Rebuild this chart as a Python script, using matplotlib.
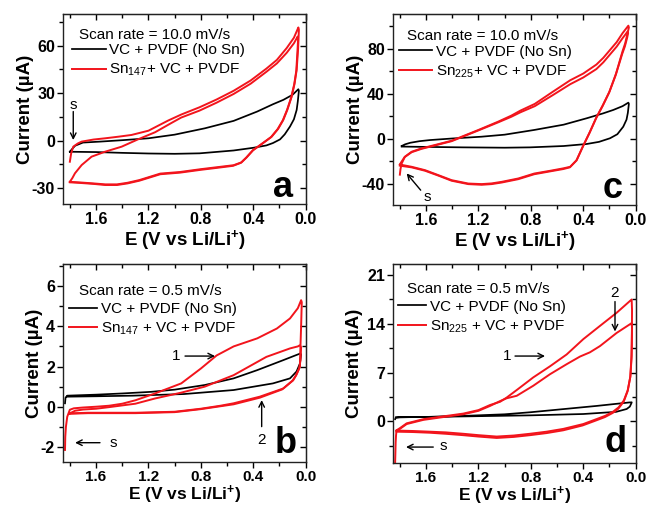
import matplotlib
matplotlib.use("Agg")
import matplotlib.pyplot as plt
from matplotlib.ticker import MultipleLocator, FormatStrFormatter
from matplotlib.lines import Line2D

plt.rcParams['font.family'] = ['Liberation Sans', 'DejaVu Sans']
plt.rcParams['mathtext.fontset'] = 'custom'
plt.rcParams['mathtext.rm'] = 'Liberation Sans'
plt.rcParams['mathtext.it'] = 'Liberation Sans:italic'
plt.rcParams['mathtext.bf'] = 'Liberation Sans:bold'
plt.rcParams['mathtext.default'] = 'regular'

# ---------------- Panel a (10.0 mV/s, Sn147) ----------------
a_black_V = [1.80, 1.78, 1.76, 1.70, 1.57, 1.40, 1.20, 1.00, 0.77, 0.55, 0.37, 0.25, 0.17, 0.10, 0.056,
             0.052, 0.06, 0.069, 0.09, 0.12, 0.16, 0.196, 0.25, 0.30, 0.40, 0.55, 0.81, 1.00, 1.20, 1.40, 1.60, 1.80]
a_black_I = [-7.0, -5.0, -3.2, -1.2, -0.6, 0.3, 1.5, 3.8, 7.8, 12.5, 18.4, 23.0, 25.8, 29.0, 32.5,
             31.5, 25.0, 19.4, 13.5, 8.9, 4.0, 0.8, -1.5, -3.0, -4.5, -6.2, -8.0, -8.3, -8.1, -7.7, -7.2, -7.0]
a_red1_V = [1.80, 1.79, 1.774, 1.74, 1.71, 1.62, 1.53, 1.43, 1.33, 1.20, 1.05, 0.95, 0.81, 0.68, 0.55, 0.42, 0.30,
            0.22, 0.145, 0.09, 0.056,
            0.052, 0.058, 0.069, 0.085, 0.107, 0.14, 0.171, 0.21, 0.26, 0.33, 0.40, 0.45, 0.49, 0.55, 0.68, 0.80,
            0.96, 1.11, 1.27, 1.36, 1.44, 1.53, 1.62, 1.72, 1.80]
a_red1_I = [-13.3, -8.0, -3.8, -1.8, -0.6, 0.7, 1.5, 2.5, 3.6, 6.3, 12.7, 16.5, 21.1, 26.0, 31.5, 38.0, 45.5,
            51.0, 58.5, 65.0, 71.5,
            70.0, 58.0, 44.7, 36.0, 27.8, 19.5, 13.1, 7.5, 2.5, -1.8, -5.9, -10.5, -13.7, -15.5, -16.8, -18.0,
            -19.8, -20.8, -24.9, -26.6, -27.6, -27.6, -27.0, -26.4, -26.0]
a_red2_V = [1.80, 1.78, 1.761, 1.71, 1.634, 1.532, 1.405, 1.278, 1.15, 1.02, 0.95, 0.81, 0.68, 0.55, 0.42, 0.30,
            0.22, 0.145, 0.09, 0.061,
            0.058, 0.064, 0.072, 0.088, 0.11, 0.143, 0.175, 0.215, 0.265, 0.335, 0.405, 0.455, 0.495, 0.555, 0.68,
            0.80, 0.96, 1.11, 1.27, 1.36, 1.44, 1.53, 1.62, 1.72, 1.80]
a_red2_I = [-26.0, -23.5, -20.6, -15.4, -10.1, -7.0, -3.8, 0.9, 5.3, 11.4, 14.6, 19.0, 24.0, 29.5, 36.0, 43.5,
            48.8, 55.5, 61.5, 65.8,
            64.0, 55.0, 44.0, 35.5, 27.5, 19.3, 12.8, 7.2, 2.2, -2.0, -6.2, -10.8, -14.0, -15.9, -17.2,
            -18.4, -20.2, -21.2, -25.3, -27.0, -28.0, -28.0, -27.3, -26.7, -26.3]

# ---------------- Panel c (10.0 mV/s, Sn225) ----------------
c_black_V = [1.786, 1.76, 1.72, 1.65, 1.57, 1.40, 1.176, 1.00, 0.774, 0.55, 0.374, 0.25, 0.171, 0.10, 0.056,
             0.052, 0.06, 0.07, 0.095, 0.14, 0.196, 0.28, 0.374, 0.55, 0.807, 1.00, 1.316, 1.60, 1.786]
c_black_I = [-6.5, -5.0, -3.6, -2.2, -1.2, 0.2, 1.8, 3.6, 7.8, 12.5, 18.2, 22.5, 25.6, 29.0, 32.1,
             31.0, 23.0, 17.0, 10.7, 4.0, 0.4, -2.8, -4.7, -6.5, -7.7, -8.0, -7.7, -7.3, -7.0]
c_red1_V = [1.80, 1.795, 1.786, 1.761, 1.71, 1.634, 1.532, 1.405, 1.328, 1.20, 1.049, 0.95, 0.88, 0.77, 0.63, 0.50,
            0.40, 0.30, 0.247, 0.196, 0.145, 0.10, 0.056,
            0.052, 0.06, 0.08, 0.10, 0.15, 0.20, 0.25, 0.30, 0.35, 0.40, 0.45, 0.50, 0.553, 0.65, 0.774, 0.896,
            1.023, 1.10, 1.176, 1.278, 1.405, 1.507, 1.608, 1.71, 1.80]
c_red1_I = [-32.0, -27.0, -22.0, -16.0, -11.6, -8.6, -5.6, -1.8, 1.8, 7.8, 15.2, 20.5, 25.0, 31.0, 42.0, 52.0,
            58.0, 66.0, 72.0, 79.0, 86.0, 94.0, 100.6,
            99.0, 95.0, 85.0, 78.0, 58.0, 42.0, 30.0, 19.0, 6.0, -6.0, -19.0, -25.0, -26.4, -28.5, -31.0, -35.4,
            -38.4, -39.8, -40.4, -39.9, -36.9, -32.4, -28.0, -25.0, -23.0]
c_red2_V = [1.80, 1.79, 1.765, 1.71, 1.634, 1.532, 1.405, 1.328, 1.20, 1.049, 0.95, 0.88, 0.77, 0.63, 0.50, 0.40,
            0.30, 0.247, 0.196, 0.145, 0.10, 0.061,
            0.058, 0.065, 0.083, 0.103, 0.153, 0.203, 0.253, 0.303, 0.353, 0.403, 0.453, 0.503, 0.553, 0.65,
            0.774, 0.896, 1.023, 1.10, 1.176, 1.278, 1.405, 1.507, 1.608, 1.71, 1.80]
c_red2_I = [-23.0, -21.0, -16.5, -12.0, -9.0, -6.0, -2.2, 1.4, 7.4, 14.6, 19.5, 23.5, 29.0, 39.0, 48.5, 54.5,
            62.0, 68.0, 75.0, 82.0, 89.5, 95.5,
            94.0, 90.0, 82.0, 75.5, 56.5, 41.0, 29.0, 18.0, 5.0, -7.0, -19.5, -25.5, -27.0, -29.0,
            -31.6, -36.0, -39.0, -40.4, -41.0, -40.4, -37.4, -32.8, -28.5, -25.5, -24.0]

# ---------------- Panel b (0.5 mV/s, Sn147) ----------------
b_black_V = [1.837, 1.833, 1.82, 1.60, 1.40, 1.18, 1.00, 0.77, 0.55, 0.37, 0.17, 0.08, 0.04,
             0.035, 0.044, 0.07, 0.12, 0.25, 0.55, 0.93, 1.32, 1.60, 1.82]
b_black_I = [0.17, 0.45, 0.55, 0.60, 0.66, 0.74, 0.85, 1.08, 1.41, 1.82, 2.32, 2.55, 2.65,
             2.60, 2.15, 1.75, 1.41, 1.16, 0.83, 0.63, 0.55, 0.52, 0.50]
b_red1_V = [1.837, 1.835, 1.83, 1.82, 1.80, 1.77, 1.70, 1.60, 1.50, 1.40, 1.30, 1.15, 0.95, 0.80, 0.68, 0.55,
            0.37, 0.22, 0.12, 0.06, 0.035,
            0.03, 0.035, 0.04, 0.044, 0.07, 0.095, 0.17, 0.35, 0.55, 0.65, 0.80, 1.00, 1.30, 1.66, 1.80]
b_red1_I = [-2.15, -1.5, -1.0, -0.5, -0.15, -0.08, -0.04, 0.0, 0.05, 0.15, 0.32, 0.66, 1.16, 1.9, 2.55, 3.0,
            3.4, 3.89, 4.39, 4.9, 5.3,
            5.2, 4.0, 3.0, 2.0, 1.6, 1.32, 0.91, 0.5, 0.17, 0.05, -0.1, -0.25, -0.3, -0.3, -0.33]
b_red2_V = [1.80, 1.76, 1.70, 1.60, 1.50, 1.30, 1.15, 0.95, 0.77, 0.55, 0.30, 0.12, 0.06, 0.044,
            0.035, 0.04, 0.05, 0.075, 0.10, 0.18, 0.35, 0.55, 0.80, 1.00, 1.30, 1.66, 1.80]
b_red2_I = [-0.33, -0.2, -0.14, -0.1, -0.02, 0.15, 0.41, 0.7, 1.0, 1.57, 2.48, 2.9, 3.0, 3.06,
            2.95, 2.3, 1.9, 1.55, 1.3, 0.86, 0.45, 0.12, -0.12, -0.27, -0.32, -0.32, -0.35]

# ---------------- Panel d (0.5 mV/s, Sn225) ----------------
d_black_V = [1.836, 1.832, 1.80, 1.60, 1.30, 1.00, 0.80, 0.55, 0.30, 0.15, 0.05, 0.03,
             0.035, 0.045, 0.069, 0.15, 0.40, 0.80, 1.30, 1.60, 1.83]
d_black_I = [0.3, 0.5, 0.57, 0.62, 0.78, 1.0, 1.3, 1.75, 2.2, 2.5, 2.7, 2.72,
             2.5, 2.1, 1.76, 1.35, 1.04, 0.85, 0.7, 0.62, 0.57]
d_red1_V = [1.836, 1.834, 1.832, 1.829, 1.825, 1.80, 1.748, 1.62, 1.45, 1.316, 1.20, 1.112, 1.035, 0.985, 0.90,
            0.782, 0.654, 0.527, 0.40, 0.273, 0.145, 0.031,
            0.028, 0.029, 0.031, 0.04, 0.06, 0.09, 0.13, 0.171, 0.23, 0.30, 0.40, 0.553, 0.68, 0.807, 0.93,
            1.061, 1.20, 1.316, 1.45, 1.57, 1.70, 1.825]
d_red1_I = [-5.86, -4.5, -3.0, -2.0, -1.3, -1.0, -0.3, 0.3, 0.75, 1.1, 1.6, 2.33, 2.8, 3.4, 4.6,
            6.3, 7.9, 9.6, 11.8, 13.7, 15.6, 17.5,
            16.0, 12.5, 9.4, 6.5, 4.5, 3.0, 2.0, 1.4, 0.8, 0.3, -0.4, -1.1, -1.5, -1.8, -2.05,
            -2.2, -2.0, -1.8, -1.6, -1.5, -1.4, -1.34]
d_red2_V = [1.825, 1.80, 1.748, 1.62, 1.45, 1.316, 1.20, 1.112, 1.035, 0.985, 0.908, 0.782, 0.654, 0.527, 0.425,
            0.35, 0.273, 0.145, 0.031,
            0.028, 0.03, 0.033, 0.042, 0.062, 0.092, 0.133, 0.175, 0.235, 0.305, 0.405, 0.553, 0.68, 0.807,
            0.93, 1.061, 1.20, 1.316, 1.45, 1.57, 1.70, 1.825]
d_red2_I = [-1.34, -1.1, -0.4, 0.2, 0.65, 1.0, 1.5, 2.2, 2.9, 3.3, 3.66, 5.1, 6.76, 8.2, 9.3,
            9.9, 10.8, 12.7, 14.1,
            13.5, 11.0, 9.0, 6.3, 4.3, 2.8, 1.8, 1.2, 0.6, 0.1, -0.6, -1.3, -1.7, -2.0,
            -2.25, -2.4, -2.2, -2.0, -1.8, -1.65, -1.55, -1.5]

x_tick_labels = ["1.6", "1.2", "0.8", "0.4", "0.0"]
x_ticks = [1.6, 1.2, 0.8, 0.4, 0.0]

RED = '#f2141c'
BLACK = '#000000'

fig = plt.figure(figsize=(6.53, 5.08), dpi=100)
W, H = 653.0, 508.0


def make_ax(l, r, t, b):
    return fig.add_axes([l / W, 1 - b / H, (r - l) / W, (b - t) / H])


ax_a = make_ax(63.3, 305.7, 14, 204)
ax_c = make_ax(393.3, 635.7, 14, 205)
ax_b = make_ax(63.3, 305.7, 264, 462)
ax_d = make_ax(393.3, 635.7, 264, 463)

# (ax, data..., ylim, minor step, yticks, title, red label, letter, letter pos, title pos,
#  legend anchor, handle length, xlabel pad, xlabel size, tick label size, ylabel pad)
panels = [
    (ax_a, a_black_V, a_black_I, a_red1_V, a_red1_I, a_red2_V, a_red2_I, (-40, 80), 15, [-30, 0, 30, 60],
     "Scan rate = 10.0 mV/s", "Sn$_{147}$+ VC + PVDF", "a", (0.948, 0.037), (0.065, 0.89),
     (0.036, 0.845), 2.2, 1, 13.5, 11.5, -2),
    (ax_c, c_black_V, c_black_I, c_red1_V, c_red1_I, c_red2_V, c_red2_I, (-59, 111), 20, [-40, 0, 40, 80],
     "Scan rate = 10.0 mV/s", "Sn$_{225}$+ VC + PVDF", "c", (0.948, 0.038), (0.057, 0.885),
     (0.023, 0.84), 2.2, 1, 13.5, 11.5, -2),
    (ax_b, b_black_V, b_black_I, b_red1_V, b_red1_I, b_red2_V, b_red2_I, (-2.75, 7.1), 1, [-2, 0, 2, 4, 6],
     "Scan rate = 0.5 mV/s", "Sn$_{147}$ + VC + PVDF", "b", (0.964, 0.047), (0.065, 0.865),
     (0.024, 0.808), 1.85, 0, 12.5, 11, -2),
    (ax_d, d_black_V, d_black_I, d_red1_V, d_red1_I, d_red2_V, d_red2_I, (-6.0, 22.6), 3.5, [0, 7, 14, 21],
     "Scan rate = 0.5 mV/s", "Sn$_{225}$ + VC + PVDF", "d", (0.964, 0.055), (0.057, 0.876),
     (0.019, 0.82), 1.85, 0, 12.5, 11, 3),
]

for (ax, bV, bI, r1V, r1I, r2V, r2I, ylim, ymin, yticks, title, redlab, letter, lpos, tpos,
     legpos, hlen, xpad, xsize, tsize, ypad) in panels:
    ax.plot(bV, bI, color=BLACK, lw=1.25, solid_joinstyle='round')
    ax.plot(r1V, r1I, color=RED, lw=1.4, solid_joinstyle='round')
    ax.plot(r2V, r2I, color=RED, lw=1.4, solid_joinstyle='round')
    ax.set_xlim(1.85, 0.0)
    ax.set_ylim(*ylim)
    ax.set_xticks(x_ticks)
    ax.set_xticklabels(x_tick_labels)
    ax.xaxis.set_minor_locator(MultipleLocator(0.2))
    ax.set_yticks(yticks)
    ax.yaxis.set_minor_locator(MultipleLocator(ymin))
    ax.yaxis.set_major_formatter(FormatStrFormatter('%d'))
    ax.tick_params(which='both', direction='out', width=1.0, labelsize=tsize)
    ax.tick_params(axis='y', pad=2, labelsize=11.5)
    ax.tick_params(axis='x', pad=1.5)
    ax.tick_params(which='major', length=4)
    ax.tick_params(which='minor', length=3)
    for lab in ax.get_xticklabels() + ax.get_yticklabels():
        lab.set_fontweight('bold')
    for s in ax.spines.values():
        s.set_linewidth(1.0)
        s.set_color('#222222')
    secx = ax.secondary_xaxis('top')
    secx.set_xticks(x_ticks)
    secx.xaxis.set_minor_locator(MultipleLocator(0.2))
    secx.tick_params(which='both', direction='in', labeltop=False, width=1.0)
    secx.tick_params(which='major', length=4)
    secx.tick_params(which='minor', length=3)
    secy = ax.secondary_yaxis('right')
    secy.set_yticks(yticks)
    secy.yaxis.set_minor_locator(MultipleLocator(ymin))
    secy.tick_params(which='both', direction='in', labelright=False, width=1.0)
    secy.tick_params(which='major', length=4)
    secy.tick_params(which='minor', length=3)
    ax.set_xlabel('E (V vs Li/Li$^{\\mathbf{+}}$)', fontsize=xsize, fontweight='bold', labelpad=xpad)
    ax.set_ylabel('Current (µA)', fontsize=13.5, fontweight='bold', labelpad=ypad)
    ax.text(tpos[0], tpos[1], title, transform=ax.transAxes, ha='left', va='center', fontsize=11)
    handles = [Line2D([], [], color=BLACK, lw=1.25), Line2D([], [], color=RED, lw=1.4)]
    ax.legend(handles, ["VC + PVDF (No Sn)", redlab], loc='upper left',
              bbox_to_anchor=legpos, frameon=False, fontsize=11,
              handlelength=hlen, handletextpad=0.25, labelspacing=0.3, borderpad=0, borderaxespad=0)
    ax.text(lpos[0], lpos[1], letter, transform=ax.transAxes, ha='right', va='baseline',
            fontsize=26, fontweight='bold')

arrow = dict(arrowstyle='->', color='black', lw=1.0, shrinkA=0, shrinkB=0)

# panel a annotations
ax_a.annotate('', xy=(1.774, 0.4), xytext=(1.774, 18.4), arrowprops=arrow)
ax_a.text(1.77, 22.6, 's', ha='center', va='center', fontsize=11)
# panel c annotations
ax_c.annotate('', xy=(1.748, -30.9), xytext=(1.641, -45.8), arrowprops=arrow)
ax_c.text(1.593, -52, 's', ha='center', va='center', fontsize=11)
# panel b annotations
ax_b.annotate('', xy=(0.692, 2.52), xytext=(0.921, 2.52), arrowprops=arrow)
ax_b.text(0.99, 2.52, '1', ha='center', va='center', fontsize=11)
ax_b.annotate('', xy=(0.336, 0.33), xytext=(0.336, -0.99), arrowprops=arrow)
ax_b.text(0.336, -1.65, '2', ha='center', va='center', fontsize=11)
ax_b.annotate('', xy=(1.76, -1.79), xytext=(1.57, -1.79), arrowprops=arrow)
ax_b.text(1.47, -1.79, 's', ha='center', va='center', fontsize=11)
# panel d annotations
ax_d.annotate('', xy=(0.158, 12.9), xytext=(0.158, 17.2), arrowprops=arrow)
ax_d.text(0.158, 18.4, '2', ha='center', va='center', fontsize=11)
ax_d.annotate('', xy=(0.692, 9.37), xytext=(0.921, 9.37), arrowprops=arrow)
ax_d.text(0.985, 9.37, '1', ha='center', va='center', fontsize=11)
ax_d.annotate('', xy=(1.753, -3.71), xytext=(1.545, -3.71), arrowprops=arrow)
ax_d.text(1.469, -3.55, 's', ha='center', va='center', fontsize=11)

fig.savefig('out.png', dpi=100)
